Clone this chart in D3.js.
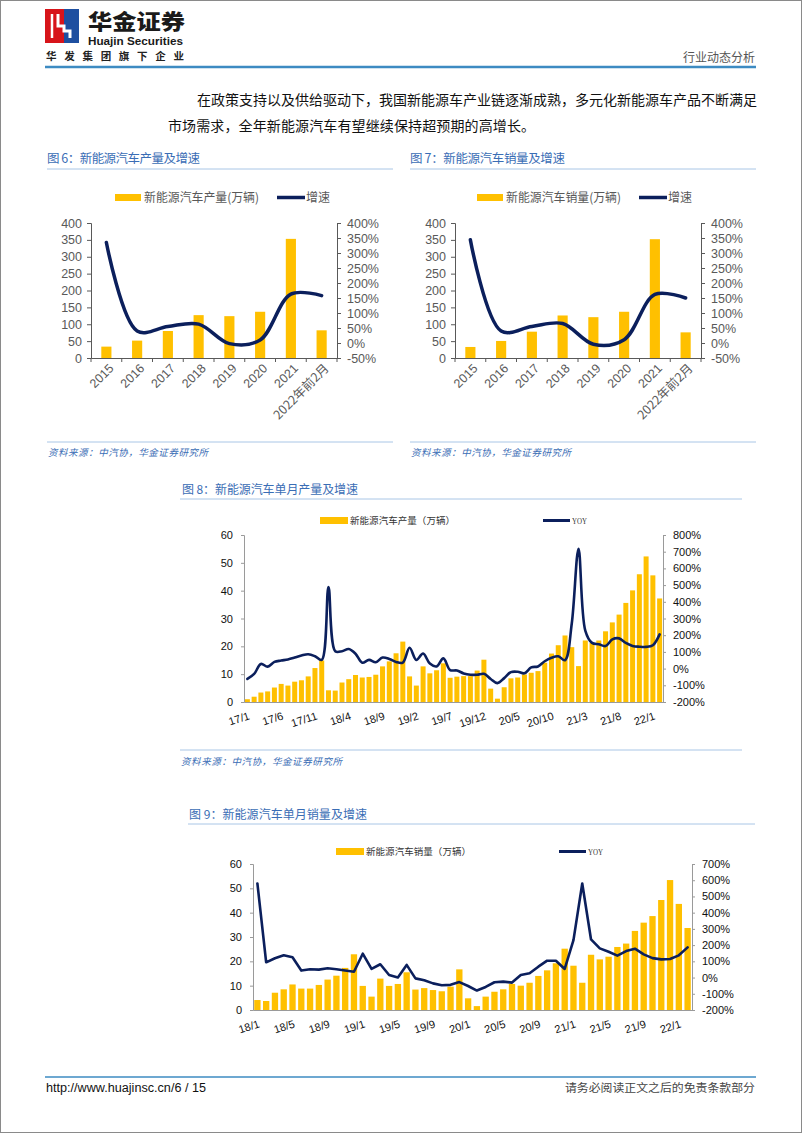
<!DOCTYPE html>
<html><head><meta charset="utf-8">
<script src="https://cdn.jsdelivr.net/npm/d3@7"></script>
<style>
body{margin:0;background:#fff}
svg{display:block}
</style></head><body>
<svg id="page" width="802" height="1133"></svg>
<script>
// ---------- DATA ----------
const annualCats = ["2015","2016","2017","2018","2019","2020","2021","2022年前2月"];
const prodAnnual = [33.7,51.5,80,127,124,137,353,82];
const prodGrowth = [335,40,55,63,-2,10,163,158];
const salesAnnual = [32.7,50.5,78,126,121,137,352,76];
const salesGrowth = [344,40,55,65,-4,11,162,150];
const annualLeftTicks = [0,50,100,150,200,250,300,350,400];
const annualRightTicks = [-50,0,50,100,150,200,250,300,350,400];

const months8 = ["17/1","17/2","17/3","17/4","17/5","17/6","17/7","17/8","17/9","17/10","17/11","17/12",
"18/1","18/2","18/3","18/4","18/5","18/6","18/7","18/8","18/9","18/10","18/11","18/12",
"19/1","19/2","19/3","19/4","19/5","19/6","19/7","19/8","19/9","19/10","19/11","19/12",
"20/1","20/2","20/3","20/4","20/5","20/6","20/7","20/8","20/9","20/10","20/11","20/12",
"21/1","21/2","21/3","21/4","21/5","21/6","21/7","21/8","21/9","21/10","21/11","21/12",
"22/1","22/2"];
const prodMonthly = [1.0,1.9,3.4,3.8,5.2,6.5,5.9,7.3,7.8,9.2,12.2,14.9,
4.2,4.1,7.0,8.2,9.7,8.8,9.0,9.8,12.8,14.6,17.5,21.7,
9.2,5.9,12.8,10.3,11.4,13.9,8.7,9.1,9.3,9.3,11.3,15.2,
4.8,1.2,5.3,8.5,8.8,9.9,10.5,11.1,14.1,17.4,20.4,23.9,
19.7,12.9,22.1,21.2,22.1,25.4,28.6,31.4,35.6,40.1,45.9,52.3,
45.5,37.2];
const prodYoy = [-62,-32,28,12,40,48,55,66,78,86,74,52,
488,104,104,117,89,35,52,38,66,58,40,36,
125,52,90,30,13,61,-9,-11,-29,-37,-37,-31,
-62,-87,-57,-21,-19,-28,7,13,44,65,74,50,
270,718,228,154,146,135,175,181,154,136,131,130,
140,205];
const months8Ticks = ["17/1","17/6","17/11","18/4","18/9","19/2","19/7","19/12","20/5","20/10","21/3","21/8","22/1"];
const m8LeftTicks = [0,10,20,30,40,50,60];
const m8RightTicks = [-200,-100,0,100,200,300,400,500,600,700,800];

const months9 = ["18/1","18/2","18/3","18/4","18/5","18/6","18/7","18/8","18/9","18/10","18/11","18/12",
"19/1","19/2","19/3","19/4","19/5","19/6","19/7","19/8","19/9","19/10","19/11","19/12",
"20/1","20/2","20/3","20/4","20/5","20/6","20/7","20/8","20/9","20/10","20/11","20/12",
"21/1","21/2","21/3","21/4","21/5","21/6","21/7","21/8","21/9","21/10","21/11","21/12",
"22/1","22/2"];
const salesMonthly = [4.1,3.7,7.1,8.5,10.5,8.8,8.8,10.3,12.5,14.1,17.3,22.9,
9.9,5.5,12.9,9.9,10.7,15.5,8.4,9.0,8.2,7.7,9.6,16.7,
4.8,1.6,5.5,7.5,8.5,10.7,10.0,11.2,14.0,16.3,19.2,25.2,
18.2,11.2,22.7,20.8,21.9,25.9,27.3,32.5,35.9,38.6,45.2,53.4,
43.6,33.7];
const salesYoy = [580,94,119,137,125,43,51,49,57,51,43,36,
147,53,82,16,1,78,-5,-17,-36,-47,-45,-28,
-52,-80,-58,-29,-25,-31,16,26,67,104,104,53,
231,580,235,180,159,135,163,178,143,120,112,114,
137,186];
const months9Ticks = ["18/1","18/5","18/9","19/1","19/5","19/9","20/1","20/5","20/9","21/1","21/5","21/9","22/1"];
const m9LeftTicks = [0,10,20,30,40,50,60];
const m9RightTicks = [-200,-100,0,100,200,300,400,500,600,700];

// ---------- STYLE ----------
const GOLD = "#FFC000", NAVY = "#0B1F5C", BLUE = "#3A6DB5", LIGHT = "#A9C6E6";
const CJK = "'Noto Sans CJK SC','Noto Sans',sans-serif";
const ARIAL = "'Liberation Sans',Arial,sans-serif";

const svg = d3.select("#page");
svg.append("rect").attr("x",0.5).attr("y",0.5).attr("width",801).attr("height",1132)
  .attr("fill","#fff").attr("stroke","#8a8a8a");

function txt(g, x, y, s, o) {
  const t = g.append("text").attr("x", x).attr("y", y).text(s)
    .attr("font-family", o.font || CJK).attr("font-size", o.size || 12)
    .attr("fill", o.fill || "#000").attr("xml:space","preserve");
  if (o.anchor) t.attr("text-anchor", o.anchor);
  if (o.weight) t.attr("font-weight", o.weight);
  if (o.style) t.attr("font-style", o.style);
  if (o.len) t.attr("textLength", o.len).attr("lengthAdjust", o.adj || "spacingAndGlyphs");
  return t;
}

// ---------- HEADER ----------
const hd = svg.append("g");
hd.append("rect").attr("x",45).attr("y",9).attr("width",34).attr("height",34).attr("fill","#D7141A");
hd.append("rect").attr("x",64).attr("y",9).attr("width",15).attr("height",34).attr("fill","#1E4FA0");
hd.append("path").attr("d","M58,14 L58,26 L64,26 L64,31 L70,31 L70,38").attr("fill","none").attr("stroke","#fff").attr("stroke-width",3);
hd.append("path").attr("d","M52,14 L52,38").attr("fill","none").attr("stroke","#fff").attr("stroke-width",2.5);
txt(hd, 88, 29, "华金证券", {size:21, weight:900, fill:"#1a1a1a", len:97});
txt(hd, 88, 45, "Huajin Securities", {font:ARIAL, size:11.5, weight:700, fill:"#1a1a1a", len:95});
txt(hd, 46, 60, "华发集团旗下企业", {size:10.5, weight:700, fill:"#222", len:138, adj:"spacing"});
txt(hd, 755, 62, "行业动态分析", {size:12, fill:"#555", anchor:"end", len:72});
hd.append("line").attr("x1",45).attr("x2",756).attr("y1",67).attr("y2",67).attr("stroke","#3D8BC2").attr("stroke-width",2.5);

// body text
txt(svg, 197, 105, "在政策支持以及供给驱动下，我国新能源车产业链逐渐成熟，多元化新能源车产品不断满足", {size:14, fill:"#111", len:560, adj:"spacing"});
txt(svg, 168, 131, "市场需求，全年新能源汽车有望继续保持超预期的高增长。", {size:14, fill:"#111", len:367, adj:"spacing"});

// ---------- ANNUAL CHART ----------
function annualChart(o) {
  const g = svg.append("g");
  txt(g, o.tx, 163, o.title, {size:12.5, fill:BLUE, len:o.tlen, adj:"spacing"});
  g.append("line").attr("x1",o.tx).attr("x2",o.tx+346).attr("y1",169).attr("y2",169).attr("stroke",LIGHT);
  g.append("line").attr("x1",o.tx).attr("x2",o.tx+346).attr("y1",442).attr("y2",442).attr("stroke",LIGHT);
  txt(g, o.tx+1, 456, "资料来源：中汽协，华金证券研究所", {size:9.5, fill:BLUE, style:"italic", len:160, adj:"spacing"});

  const x = d3.scaleBand().domain(annualCats).range([o.x0, o.x1]).paddingInner(0.67).paddingOuter(0.335);
  const yL = d3.scaleLinear().domain([0,400]).range([358,223]);
  const yR = d3.scaleLinear().domain([-50,400]).range([358,223]);

  // legend
  g.append("rect").attr("x",o.lx).attr("y",194).attr("width",26).attr("height",7).attr("fill",GOLD);
  txt(g, o.lx+29, 202, o.legend, {size:12.5, fill:"#595959", len:115});
  g.append("line").attr("x1",o.lx+162).attr("x2",o.lx+190).attr("y1",197.5).attr("y2",197.5).attr("stroke",NAVY).attr("stroke-width",3.5);
  txt(g, o.lx+191, 202, "增速", {size:12.5, fill:"#595959", len:24});

  g.selectAll("rect.bar").data(o.bars).join("rect").attr("class","bar")
    .attr("x",(d,i)=>x(annualCats[i])).attr("width",x.bandwidth())
    .attr("y",d=>yL(d)).attr("height",d=>yL(0)-yL(d)).attr("fill",GOLD);

  const axL = g.append("g").attr("transform",`translate(${o.x0},0)`)
    .call(d3.axisLeft(yL).tickValues(annualLeftTicks).tickSize(4).tickPadding(5));
  const axR = g.append("g").attr("transform",`translate(${o.x1},0)`)
    .call(d3.axisRight(yR).tickValues(annualRightTicks).tickSize(4).tickPadding(6).tickFormat(d=>d+"%"));
  const axB = g.append("g").attr("transform",`translate(0,358)`)
    .call(d3.axisBottom(x).tickSize(0).tickFormat(""));
  const step = x.step();
  g.selectAll("line.sep").data(d3.range(annualCats.length+1)).join("line").attr("class","sep")
    .attr("x1",i=>o.x0+i*step).attr("x2",i=>o.x0+i*step).attr("y1",358).attr("y2",362).attr("stroke","#595959");
  [axL,axR,axB].forEach(a=>{
    a.selectAll("path").attr("stroke","#595959");
    a.selectAll("line").attr("stroke","#595959");
    a.selectAll("text").attr("font-family",ARIAL).attr("font-size",12.5).attr("fill","#595959");
  });
  g.selectAll("text.xl").data(annualCats).join("text").attr("class","xl")
    .attr("transform",d=>`translate(${x(d)+x.bandwidth()/2+5},366) rotate(-45)`)
    .attr("text-anchor","end").attr("dy","0.35em")
    .attr("font-family",(d)=>/年/.test(d)?CJK:ARIAL).attr("font-size",12.5).attr("fill","#595959")
    .text(d=>d);

  const line = d3.line().x((d,i)=>x(annualCats[i])+x.bandwidth()/2).y(d=>yR(d)).curve(d3.curveCatmullRom.alpha(0.5));
  g.append("path").attr("d",line(o.growth)).attr("fill","none").attr("stroke",NAVY).attr("stroke-width",3.5).attr("stroke-linecap","round");
}

annualChart({tx:47, tlen:153, title:"图 6：新能源汽车产量及增速", x0:91, x1:337, lx:115,
  legend:"新能源汽车产量(万辆)", bars:prodAnnual, growth:prodGrowth});
annualChart({tx:410, tlen:155, title:"图 7：新能源汽车销量及增速", x0:455, x1:701, lx:477,
  legend:"新能源汽车销量(万辆)", bars:salesAnnual, growth:salesGrowth});

// ---------- MONTHLY CHART ----------
function monthlyChart(o) {
  const g = svg.append("g");
  txt(g, o.tx, o.ty, o.title, {size:12, fill:BLUE, len:o.tlen, adj:"spacing"});
  g.append("line").attr("x1",o.lineX0).attr("x2",o.lineX1).attr("y1",o.ty+5).attr("y2",o.ty+5).attr("stroke",LIGHT);
  if (o.src) {
    g.append("line").attr("x1",o.lineX0).attr("x2",o.lineX1).attr("y1",o.srcY).attr("y2",o.srcY).attr("stroke",LIGHT);
    txt(g, o.lineX0+1, o.srcY+15, "资料来源：中汽协，华金证券研究所", {size:9.5, fill:BLUE, style:"italic", len:161, adj:"spacing"});
  }
  const x = d3.scaleBand().domain(o.cats).range([o.x0, o.x1]).paddingInner(o.pad).paddingOuter(o.pad/2);
  const yL = d3.scaleLinear().domain([0,60]).range([o.yb, o.yt]);
  const yR = d3.scaleLinear().domain([-200, o.rmax]).range([o.yb, o.yt]);

  // legend
  g.append("rect").attr("x",o.lx).attr("y",o.ly-3.5).attr("width",28).attr("height",7).attr("fill",GOLD);
  txt(g, o.lx+30, o.ly+3.5, o.legend, {size:9.5, fill:"#333", len:105, adj:"spacing"});
  g.append("line").attr("x1",o.lx+223).attr("x2",o.lx+250).attr("y1",o.ly).attr("y2",o.ly).attr("stroke",NAVY).attr("stroke-width",3);
  txt(g, o.lx+252, o.ly+3, "YOY", {font:"'Liberation Serif',serif", size:8.5, fill:"#333", len:15});

  g.selectAll("rect.bar").data(o.bars).join("rect").attr("class","bar")
    .attr("x",(d,i)=>x(o.cats[i])).attr("width",x.bandwidth())
    .attr("y",d=>yL(d)).attr("height",d=>yL(0)-yL(d)).attr("fill",GOLD);

  const axL = g.append("g").attr("transform",`translate(${o.x0},0)`)
    .call(d3.axisLeft(yL).tickValues(o.lt).tickSize(3).tickPadding(8));
  const axR = g.append("g").attr("transform",`translate(${o.x1},0)`)
    .call(d3.axisRight(yR).tickValues(o.rt).tickSize(3).tickPadding(7).tickFormat(d=>d+"%"));
  const axB = g.append("g").attr("transform",`translate(0,${o.yb})`)
    .call(d3.axisBottom(x).tickSize(0).tickFormat(""));
  [axL,axR,axB].forEach(a=>{
    a.selectAll("path").attr("stroke","#9a9a9a");
    a.selectAll("line").attr("stroke","#9a9a9a");
    a.selectAll("text").attr("font-family",ARIAL).attr("font-size",11).attr("fill","#111");
  });
  g.selectAll("text.xl").data(o.ticks).join("text").attr("class","xl")
    .attr("transform",d=>`translate(${x(d)+x.bandwidth()/2+3},${o.yb+17}) rotate(-18)`)
    .attr("text-anchor","end")
    .attr("font-family",ARIAL).attr("font-size",11).attr("fill","#111").text(d=>d);

  const line = d3.line().x((d,i)=>x(o.cats[i])+x.bandwidth()/2).y(d=>yR(d))
    .curve(o.smooth ? d3.curveCatmullRom.alpha(0.5) : d3.curveLinear);
  g.append("path").attr("d",line(o.yoy)).attr("fill","none").attr("stroke",NAVY).attr("stroke-width",2.6)
    .attr("stroke-linejoin","round").attr("stroke-linecap","round");
}

monthlyChart({tx:182, ty:494, tlen:176, title:"图 8：新能源汽车单月产量及增速", lineX0:180, lineX1:742,
  src:true, srcY:750, cats:months8, bars:prodMonthly, yoy:prodYoy, ticks:months8Ticks,
  x0:244, x1:663, yb:702, yt:535, rmax:800, pad:0.26, lt:m8LeftTicks, rt:m8RightTicks,
  lx:320, ly:520.5, legend:"新能源汽车产量（万辆）", smooth:true});
monthlyChart({tx:189, ty:819, tlen:178, title:"图 9：新能源汽车单月销量及增速", lineX0:188, lineX1:755,
  src:false, cats:months9, bars:salesMonthly, yoy:salesYoy, ticks:months9Ticks,
  x0:253, x1:692, yb:1010, yt:864, rmax:700, pad:0.28, lt:m9LeftTicks, rt:m9RightTicks,
  lx:336, ly:851.5, legend:"新能源汽车销量（万辆）", smooth:false});

// ---------- FOOTER ----------
svg.append("line").attr("x1",45).attr("x2",756).attr("y1",1077).attr("y2",1077).attr("stroke","#3D8BC2").attr("stroke-width",1.5);
txt(svg, 46, 1092, "http://www.huajinsc.cn/6 / 15", {font:ARIAL, size:12, fill:"#111", len:160});
txt(svg, 755, 1092, "请务必阅读正文之后的免责条款部分", {size:11, fill:"#444", anchor:"end", len:190});
</script>
</body></html>
